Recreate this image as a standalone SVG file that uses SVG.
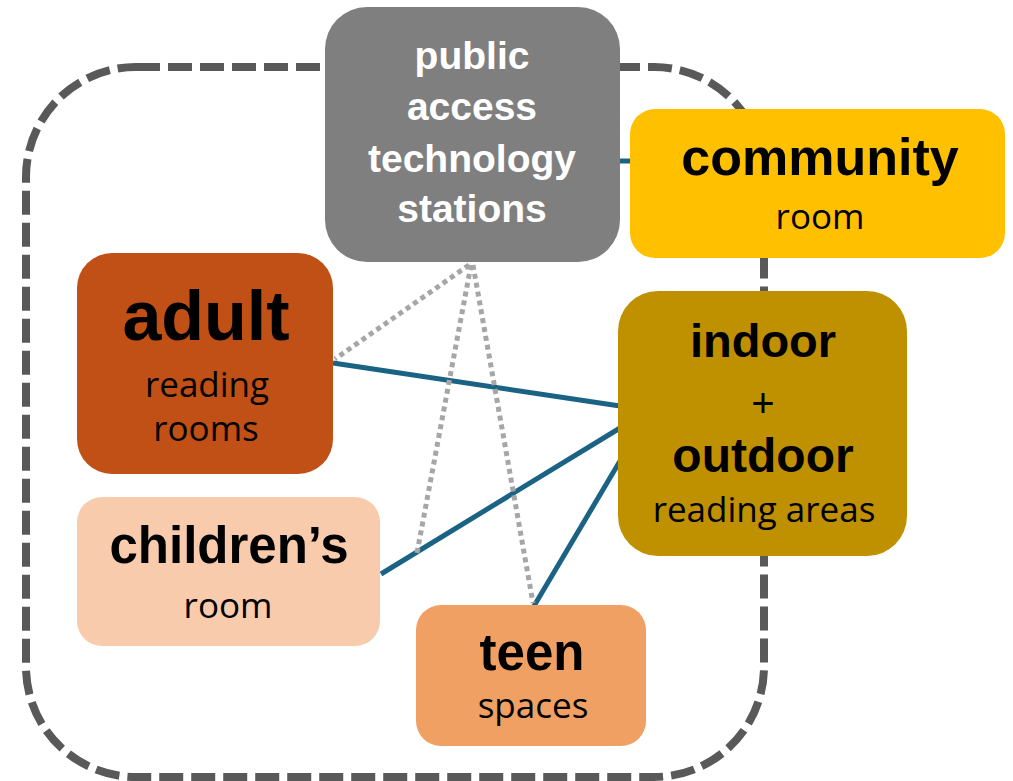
<svg xmlns="http://www.w3.org/2000/svg" width="1013" height="781" viewBox="0 0 1013 781">
  <style>
    .b { font-family: "Liberation Sans", Arial, sans-serif; font-weight: bold; text-anchor: middle; fill: #000; }
    .r { font-family: "Open Sans", "Liberation Sans", sans-serif; font-weight: normal; text-anchor: middle; fill: #000; font-size: 35px; }
    .p { font-family: "Liberation Sans", Arial, sans-serif; font-weight: normal; text-anchor: middle; fill: #000; }
    .w { fill: #fff; }
    .blue { stroke: #1b6384; stroke-width: 5; fill: none; }
    .dot { stroke: #a6a6a6; stroke-width: 5; stroke-dasharray: 5 4; fill: none; }
  </style>
  <rect x="0" y="0" width="1013" height="781" fill="#fff"/>
  <g id="boundary">
    <rect x="26" y="67" width="738" height="710" rx="110" ry="110" fill="none" stroke="#595959" stroke-width="8" stroke-dasharray="24 8"/>
  </g>
  <g id="connectors">
    <line class="blue" x1="615" y1="161" x2="635" y2="161"/>
    <line class="blue" x1="333" y1="363" x2="620" y2="406"/>
    <line class="blue" x1="381" y1="574" x2="620" y2="428"/>
    <line class="blue" x1="534" y1="606" x2="620" y2="461"/>
    <line class="dot" x1="469" y1="265" x2="335" y2="359"/>
    <line class="dot" x1="471" y1="265" x2="417" y2="553"/>
    <line class="dot" x1="473" y1="265" x2="533" y2="603"/>
  </g>
  <g id="public-access">
    <rect x="325" y="7" width="295" height="255" rx="42" fill="#7f7f7f"/>
    <text class="b w" font-size="39" x="472" y="69">public</text>
    <text class="b w" font-size="39" x="472" y="120">access</text>
    <text class="b w" font-size="39" x="472" y="172">technology</text>
    <text class="b w" font-size="39" x="472" y="222">stations</text>
  </g>
  <g id="community">
    <rect x="630" y="109" width="375" height="149" rx="25" fill="#ffc000"/>
    <text class="b" font-size="52" x="820" y="175">community</text>
    <text class="r" font-size="36" x="820" y="229">room</text>
  </g>
  <g id="adult">
    <rect x="77" y="253" width="256" height="221" rx="35" fill="#c05015"/>
    <text class="b" font-size="70" x="206" y="340">adult</text>
    <text class="r" x="207" y="397">reading</text>
    <text class="r" x="206" y="441">rooms</text>
  </g>
  <g id="indoor-outdoor">
    <rect x="618" y="291" width="289" height="265" rx="40" fill="#bf9000"/>
    <text class="b" font-size="47" x="763" y="357">indoor</text>
    <text class="p" font-size="40" x="763" y="417">+</text>
    <text class="b" font-size="48" x="763" y="472">outdoor</text>
    <text class="r" font-size="34" x="764" y="522">reading areas</text>
  </g>
  <g id="childrens">
    <rect x="77" y="497" width="303" height="149" rx="25" fill="#f8cbad"/>
    <text class="b" font-size="51" x="229" y="563">children’s</text>
    <text class="r" font-size="36" x="228" y="618">room</text>
  </g>
  <g id="teen">
    <rect x="416" y="605" width="230" height="141" rx="25" fill="#f0a062"/>
    <text class="b" font-size="51" x="532" y="670">teen</text>
    <text class="r" font-size="35" x="533" y="718">spaces</text>
  </g>
</svg>
